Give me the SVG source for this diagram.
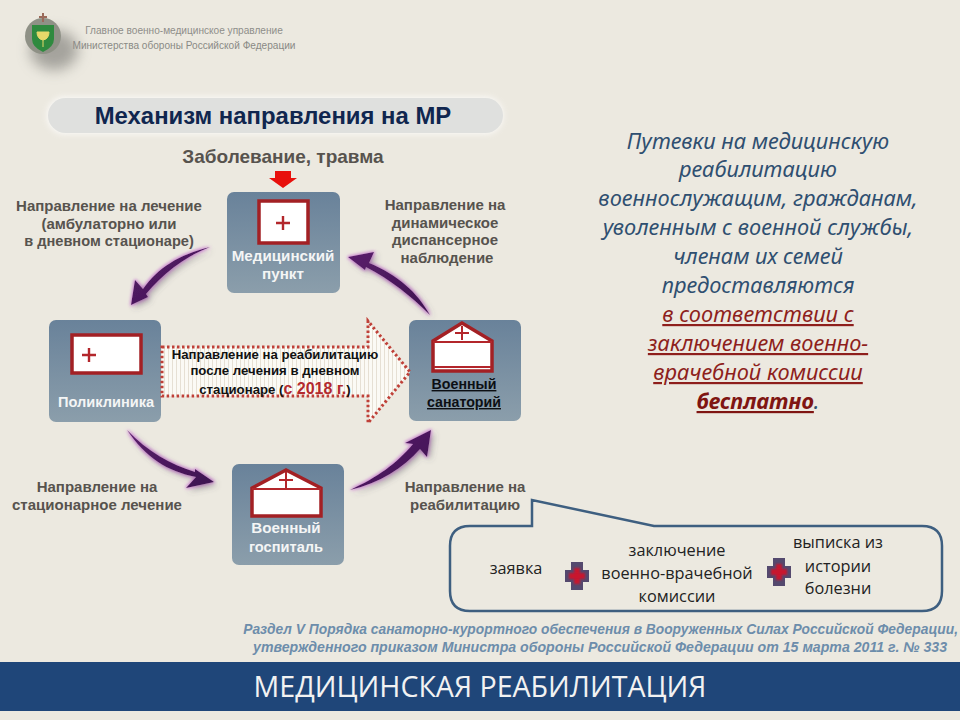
<svg xmlns="http://www.w3.org/2000/svg" width="960" height="720" viewBox="0 0 960 720">
<style>
text{font-family:"Liberation Sans",Arial,sans-serif}
.lab{font-size:15px;font-weight:bold;fill:#57534e;text-anchor:middle}
.nl{font-size:15.2px;font-weight:bold;fill:#f4f5f5;text-anchor:middle}
.nd{fill:url(#ng)}
.wh{fill:#fff;stroke:#a32024;stroke-width:3.5}
.pl{stroke:#b3262b;stroke-width:2.4;fill:none}
.thin{stroke:#b3262b;stroke-width:2;fill:none}
.sw{fill:url(#pg);filter:url(#glow)}
.r{font-family:"Noto Sans","DejaVu Sans",sans-serif;font-style:italic;font-size:21.8px;fill:#2f4f70;text-anchor:middle}
.rr{fill:#8e1f1c;text-decoration:underline}
.bx{font-family:"Open Sans","Noto Sans",sans-serif;font-size:16.300px;fill:#222;text-anchor:middle}
.src{font-weight:bold;font-style:italic;fill:#6d8dab;text-anchor:end}
.ba{font-size:13.2px;font-weight:bold;fill:#111;text-anchor:middle}
.dk{font-size:14.2px;font-weight:bold;fill:#0c0f14;text-anchor:middle;text-decoration:underline}
</style>
<defs>
<linearGradient id="ng" x1="0" y1="0" x2="0" y2="1"><stop offset="0" stop-color="#69829a"/><stop offset="1" stop-color="#8b9eab"/></linearGradient>
<linearGradient id="pg" x1="0" y1="0" x2="1" y2="1"><stop offset="0" stop-color="#5a1f6b"/><stop offset="1" stop-color="#3d1250"/></linearGradient>
<pattern id="st" width="4" height="4" patternUnits="userSpaceOnUse"><rect width="4" height="4" fill="#fbfaf5"/><rect width="1" height="4" fill="#e6e0d4"/></pattern>
<filter id="glow" x="-30%" y="-30%" width="160%" height="160%"><feMorphology in="SourceAlpha" operator="dilate" radius="1" result="d"/><feGaussianBlur in="d" stdDeviation="1.5" result="b"/><feFlood flood-color="#c774d0" flood-opacity=".8"/><feComposite in2="b" operator="in" result="g"/><feDropShadow in="SourceGraphic" dx="3" dy="3" stdDeviation="3" flood-color="#55505a" flood-opacity=".45" result="s"/><feMerge><feMergeNode in="g"/><feMergeNode in="s"/></feMerge></filter>
<filter id="sh" x="-60%" y="-60%" width="220%" height="220%"><feGaussianBlur stdDeviation="7"/></filter>
<filter id="gl" x="-5%" y="-30%" width="110%" height="160%"><feGaussianBlur stdDeviation="3"/></filter>
<filter id="soft" x="-30%" y="-30%" width="160%" height="160%"><feGaussianBlur stdDeviation="1.2"/></filter>
<g id="cr"><rect x="-6" y="-14" width="12" height="28" fill="#54496e"/><rect x="-12" y="-6" width="24" height="12" fill="#54496e"/><rect x="-3" y="-8" width="6" height="16" fill="#c8182e" filter="url(#soft)"/><rect x="-8" y="-3" width="16" height="6" fill="#c8182e" filter="url(#soft)"/></g>
</defs>
<rect width="960" height="720" fill="#ece9e0"/>

<g id="emblem">
<ellipse cx="54" cy="50" rx="24" ry="20" fill="#6b6a66" opacity=".55" filter="url(#sh)"/>
<circle cx="43" cy="36" r="18" fill="#8f9186"/>
<path d="M43 13v9M39 17h8" stroke="#9a6a5a" stroke-width="2"/>
<path d="M32 25h22v14q0 8-11 13q-11-5-11-13z" fill="#2f8a3f"/>
<path d="M37 32h12q0 7-6 8q-6-1-6-8zM43 40v7" fill="#e6d96a" stroke="#e6d96a"/>
</g>
<g id="org">
<text x="184" y="34" text-anchor="middle" font-size="10.100" fill="#8f8e8a">Главное военно-медицинское управление</text>
<text x="184" y="49" text-anchor="middle" font-size="10.100" fill="#8a8985">Министерства обороны Российской Федерации</text>
</g>

<g id="title">
<rect x="47" y="97" width="456" height="37" rx="18" fill="#fff" opacity=".8" filter="url(#gl)"/>
<rect x="48" y="98" width="455" height="35" rx="17.500" fill="#dfe0de"/>
<text x="273" y="124" text-anchor="middle" font-size="23.900" font-weight="bold" fill="#10264f">Механизм направления на МР</text>
</g>
<text x="283" y="163" text-anchor="middle" font-size="19" font-weight="bold" fill="#57534e">Заболевание, травма</text>
<path id="red-arrow" d="M275 171h16v7h6l-14 10l-14-10h6z" fill="#e8100c"/>

<g id="connectors">
<path class="sw" d="M210 247C178 255 158 268 143 289L135 280L131 305L148 297L146 294C162 275 182 258 210 247Z"/>
<path class="sw" d="M430 315C417 292 398 275 369 263L374 252L348 257L365 270L366 267C391 280 411 296 430 315Z"/>
<path class="sw" d="M127 430C146 458 167 471 196 477L186 488L214 482L195 469L195 472C170 464 148 452 127 430Z"/>
<path class="sw" d="M350 490C380 483 403 468 420 449L427 457L431 430L405 443L413 444C396 464 378 477 350 490Z"/>
</g>

<g id="med-point">
<rect class="nd" x="227" y="192" width="113" height="101" rx="7"/>
<rect class="wh" x="259" y="201" width="49" height="42"/>
<path class="pl" d="M283 216v14M276 223h14"/>
<text class="nl" x="283" y="261">Медицинский</text><text class="nl" x="283" y="279">пункт</text>
</g>
<g id="poly">
<rect class="nd" x="49" y="320" width="112" height="102" rx="7"/>
<rect class="wh" x="72" y="335" width="69" height="38"/>
<path class="pl" d="M89 348v14M82 355h14"/>
<text class="nl" x="106" y="407" style="font-size:14.600px">Поликлиника</text>
</g>
<g id="sanatorium">
<rect class="nd" x="409" y="320" width="112" height="101" rx="7"/>
<path class="wh" d="M462 323L433 341V371H492V341Z"/>
<path class="thin" d="M433 342H492M434 367H491M462 326v14M455 333h14"/>
<text class="dk" x="464" y="389">Военный</text>
<text class="dk" x="464" y="407">санаторий</text>
</g>
<g id="hospital">
<rect class="nd" x="232" y="464" width="112" height="101" rx="7"/>
<path class="wh" d="M286 470L252 488V516H321V488Z"/>
<path class="thin" d="M252 489H321M286 472v16M279 480h14"/>
<text class="nl" x="286" y="533">Военный</text><text class="nl" x="286" y="552" style="font-size:14.600px">госпиталь</text>
</g>

<g id="big-arrow">
<path d="M162 347H368V321L410 372L368 423V396H162Z" fill="url(#st)" stroke="#bf4038" stroke-width="3" stroke-dasharray="2.500 2.500"/>
<text class="ba" x="275" y="359">Направление на реабилитацию</text>
<text class="ba" x="275" y="375">после лечения в дневном</text>
<text class="ba" x="275" y="394">стационаре (<tspan font-size="16" fill="#b32a2e">с 2018 г.</tspan>)</text>
</g>

<g id="labels">
<text class="lab" x="109" y="211">Направление на лечение</text>
<text class="lab" x="109" y="229">(амбулаторно или</text>
<text class="lab" x="109" y="246" style="font-size:14.600px">в дневном стационаре)</text>
<text class="lab" x="445" y="210">Направление на</text>
<text class="lab" x="445" y="228">динамическое</text>
<text class="lab" x="445" y="245">диспансерное</text>
<text class="lab" x="447" y="263">наблюдение</text>
<text class="lab" x="97" y="492">Направление на</text>
<text class="lab" x="97" y="510">стационарное лечение</text>
<text class="lab" x="465" y="492">Направление на</text>
<text class="lab" x="465" y="510">реабилитацию</text>
</g>

<g id="right-text">
<text class="r" x="758" y="149">Путевки на медицинскую</text>
<text class="r" x="758" y="177">реабилитацию</text>
<text class="r" x="758" y="206">военнослужащим, гражданам,</text>
<text class="r" x="758" y="235">уволенным с военной службы,</text>
<text class="r" x="758" y="264">членам их семей</text>
<text class="r" x="758" y="293">предоставляются</text>
<text class="r rr" x="758" y="322">в соответствии с</text>
<text class="r rr" x="758" y="351">заключением военно-</text>
<text class="r rr" x="758" y="380">врачебной комиссии</text>
<text class="r" x="758" y="409"><tspan class="rr" font-weight="bold" style="fill:#7f1512">бесплатно</tspan>.</text>
</g>

<g id="callout">
<path d="M470 526H532V500L654 526H922Q942 526 942 546V591Q942 611 922 611H470Q450 611 450 591V546Q450 526 470 526Z" fill="#ece9e0" stroke="#3e5f80" stroke-width="2.500"/>
<text class="bx" x="516" y="574">заявка</text>
<use href="#cr" x="577" y="576"/>
<text class="bx" x="677" y="556">заключение</text>
<text class="bx" x="677" y="579">военно-врачебной</text>
<text class="bx" x="677" y="602">комиссии</text>
<use href="#cr" x="779" y="572"/>
<text class="bx" x="838" y="548">выписка из</text>
<text class="bx" x="838" y="572">истории</text>
<text class="bx" x="838" y="594">болезни</text>
</g>

<g id="source">
<text class="src" x="958" y="634" font-size="13.800">Раздел V Порядка санаторно-курортного обеспечения в Вооруженных Силах Российской Федерации,</text>
<text class="src" x="947" y="652" font-size="14.150">утвержденного приказом Министра обороны Российской Федерации от 15 марта 2011 г. № 333</text>
</g>

<g id="footer">
<rect x="0" y="662" width="960" height="49" fill="#1f4679"/>
<text x="480" y="697" text-anchor="middle" font-size="28.600" style="font-family:'Open Sans','Noto Sans',sans-serif" fill="#f2f2f2">МЕДИЦИНСКАЯ РЕАБИЛИТАЦИЯ</text>
</g>
</svg>
